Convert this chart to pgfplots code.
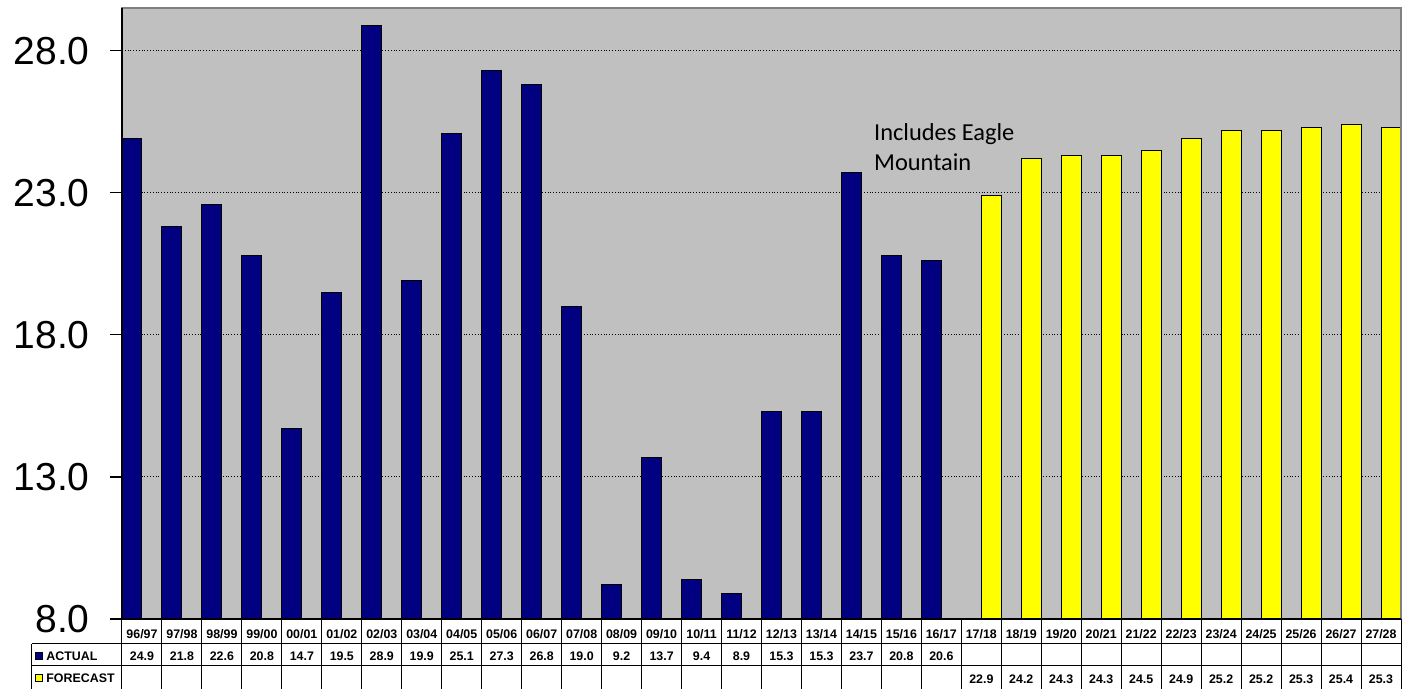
\documentclass[border=0pt]{standalone}
\usepackage{fontspec}
\setmainfont{Liberation Sans}
\newfontfamily\calibri{Carlito}
\usepackage{pgfplots}
\pgfplotsset{compat=1.18}
\usetikzlibrary{calc}
\definecolor{actual}{RGB}{0,0,128}
\definecolor{forecast}{RGB}{255,255,0}
\definecolor{plotbg}{RGB}{192,192,192}
\definecolor{frame}{RGB}{128,128,128}

\begin{document}
\begin{tikzpicture}
\begin{axis}[
  scale only axis, width=639.5pt, height=305.5pt,
  xmin=-0.5, xmax=31.5, ymin=8, ymax=29.5,
  axis line style={draw=none},
  axis background/.style={fill=plotbg},
  ybar, bar width=0.5,
  xtick={0,...,31},
  xticklabels={
    {96/97\\24.9\\\mbox{}},{97/98\\21.8\\\mbox{}},{98/99\\22.6\\\mbox{}},{99/00\\20.8\\\mbox{}},
    {00/01\\14.7\\\mbox{}},{01/02\\19.5\\\mbox{}},{02/03\\28.9\\\mbox{}},{03/04\\19.9\\\mbox{}},
    {04/05\\25.1\\\mbox{}},{05/06\\27.3\\\mbox{}},{06/07\\26.8\\\mbox{}},{07/08\\19.0\\\mbox{}},
    {08/09\\9.2\\\mbox{}},{09/10\\13.7\\\mbox{}},{10/11\\9.4\\\mbox{}},{11/12\\8.9\\\mbox{}},
    {12/13\\15.3\\\mbox{}},{13/14\\15.3\\\mbox{}},{14/15\\23.7\\\mbox{}},{15/16\\20.8\\\mbox{}},
    {16/17\\20.6\\\mbox{}},
    {17/18\\\mbox{}\\22.9},{18/19\\\mbox{}\\24.2},{19/20\\\mbox{}\\24.3},{20/21\\\mbox{}\\24.3},
    {21/22\\\mbox{}\\24.5},{22/23\\\mbox{}\\24.9},{23/24\\\mbox{}\\25.2},{24/25\\\mbox{}\\25.2},
    {25/26\\\mbox{}\\25.3},{26/27\\\mbox{}\\25.4},{27/28\\\mbox{}\\25.3}},
  xtick style={draw=none},
  xticklabel style={font=\fontsize{6.2}{11.3}\selectfont\bfseries, align=center,
    anchor=north, inner sep=0pt, yshift=1.1pt},
  ytick={8,13,18,23,28},
  yticklabels={8.0,13.0,18.0,23.0,28.0},
  ytick pos=left, tick align=outside, major tick length=6pt,
  ytick style={black, line width=0.6pt},
  yticklabel style={font=\fontsize{19.5}{20}\selectfont, anchor=east, inner sep=0pt,
    text width=45pt, align=right, xshift=-10pt},
  ymajorgrids, grid style={black, densely dotted, line width=0.5pt},
]
\addplot[fill=actual, draw=black, line width=0.5pt, bar shift=-0.25] coordinates {
  (0,24.9)(1,21.8)(2,22.6)(3,20.8)(4,14.7)(5,19.5)(6,28.9)(7,19.9)(8,25.1)(9,27.3)
  (10,26.8)(11,19.0)(12,9.2)(13,13.7)(14,9.4)(15,8.9)(16,15.3)(17,15.3)(18,23.7)
  (19,20.8)(20,20.6)};
\addplot[fill=forecast, draw=black, line width=0.5pt, bar shift=0.25] coordinates {
  (21,22.9)(22,24.2)(23,24.3)(24,24.3)(25,24.5)(26,24.9)(27,25.2)(28,25.2)(29,25.3)
  (30,25.4)(31,25.3)};
\node[anchor=north west, inner sep=0pt, align=left,
  font=\calibri\fontsize{12.2}{15}\selectfont] at (axis cs:18.31,25.43)
  {Includes Eagle\\Mountain};
\coordinate (SW) at (rel axis cs:0,0);
\coordinate (SE) at (rel axis cs:1,0);
\coordinate (NW) at (rel axis cs:0,1);
\coordinate (NE) at (rel axis cs:1,1);
\end{axis}
% frame and axis line
\draw[frame, line width=1pt] (SW) rectangle (NE);
\draw[black, line width=0.6pt] (NW) -- (SW) -- (SE);
% data table grid
\draw[black, line width=0.5pt] ([shift={(-45pt,-12.5pt)}]SW) -- ([yshift=-12.5pt]SE);
\draw[black, line width=0.5pt] ([shift={(-45pt,-23.5pt)}]SW) -- ([yshift=-23.5pt]SE);
\draw[black, line width=0.5pt] ([shift={(-45pt,-12.5pt)}]SW) -- ([shift={(-45pt,-35pt)}]SW);
\foreach \i in {0,...,32} \draw[black, line width=0.5pt] ($(SW)!\i/32!(SE)$) -- ++(0,-35pt);
% row labels with legend keys
\draw[fill=actual, line width=0.4pt] ([shift={(-43.5pt,-20.3pt)}]SW) rectangle ++(3.5pt,3.5pt);
\node[anchor=west, inner sep=0pt, font=\fontsize{6.2}{7}\selectfont\bfseries]
  at ([shift={(-38pt,-18.5pt)}]SW) {ACTUAL};
\draw[fill=forecast, line width=0.4pt] ([shift={(-43.5pt,-31.3pt)}]SW) rectangle ++(3.5pt,3.5pt);
\node[anchor=west, inner sep=0pt, font=\fontsize{6.2}{7}\selectfont\bfseries]
  at ([shift={(-38pt,-29.5pt)}]SW) {FORECAST};
\pgfresetboundingbox
\path[use as bounding box] ([shift={(-61pt,-35pt)}]SW) rectangle ([shift={(6pt,4pt)}]NE);
\end{tikzpicture}
\end{document}
